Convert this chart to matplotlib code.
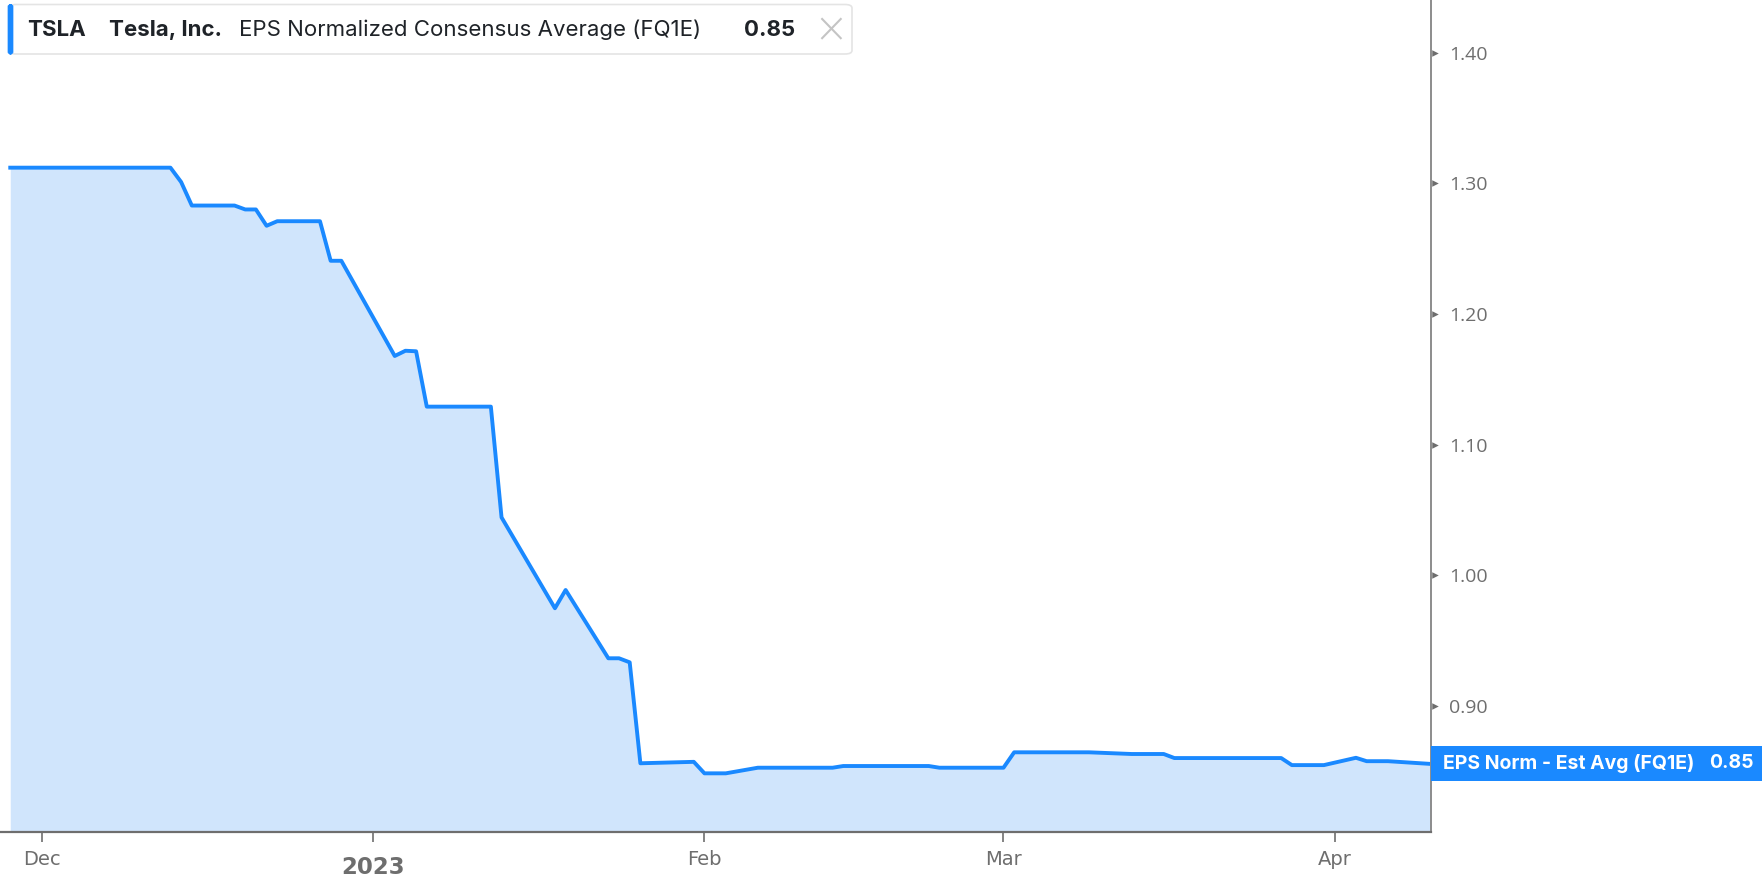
import matplotlib
matplotlib.use("Agg")
import matplotlib.pyplot as plt
import matplotlib.dates as mdates
from matplotlib.patches import FancyBboxPatch, Rectangle
from matplotlib.transforms import blended_transform_factory
import pandas as pd

# EPS normalized consensus average (FQ1E)
dates = ["2022-11-28", "2022-12-13", "2022-12-14", "2022-12-15", "2022-12-19",
         "2022-12-20", "2022-12-21", "2022-12-22", "2022-12-23", "2022-12-27",
         "2022-12-28", "2022-12-29", "2023-01-03", "2023-01-04", "2023-01-05",
         "2023-01-06", "2023-01-12", "2023-01-13", "2023-01-18", "2023-01-19",
         "2023-01-23", "2023-01-24", "2023-01-25", "2023-01-26", "2023-01-31",
         "2023-02-01", "2023-02-03", "2023-02-06", "2023-02-13", "2023-02-14",
         "2023-02-22", "2023-02-23", "2023-03-01", "2023-03-02", "2023-03-09",
         "2023-03-13", "2023-03-16", "2023-03-17", "2023-03-27", "2023-03-28",
         "2023-03-31", "2023-04-03", "2023-04-04", "2023-04-06", "2023-04-10"]
eps = [1.312, 1.312, 1.301, 1.283, 1.283,
       1.280, 1.280, 1.2675, 1.271, 1.271,
       1.2407, 1.2407, 1.1678, 1.1718, 1.1714,
       1.129, 1.129, 1.0442, 0.9746, 0.9886,
       0.9363, 0.9363, 0.9332, 0.8559, 0.857,
       0.8482, 0.8482, 0.8525, 0.8525, 0.8538,
       0.8538, 0.8525, 0.8525, 0.8643, 0.8643,
       0.863, 0.863, 0.8599, 0.8599, 0.8545,
       0.8545, 0.8601, 0.8575, 0.8575, 0.8554]
last_label = "0.85"

x_ticks = ["2022-12-01", "2023-01-01", "2023-02-01", "2023-03-01", "2023-04-01"]
x_labels = ["Dec", "2023", "Feb", "Mar", "Apr"]
y_ticks = [0.90, 1.00, 1.10, 1.20, 1.30, 1.40]

LINE = "#1a89ff"
FILL = "#d0e5fc"
GREY = "#6e6e6e"

W, H = 1762, 880
fig = plt.figure(figsize=(W / 100, H / 100), dpi=100)
ax = fig.add_axes([0, (H - 831.7) / H, 1430.7 / W, 831.7 / H])  # type: plt.Axes

d = pd.to_datetime(dates)
y0 = 0.8035
ax.fill_between(d, eps, y0, color=FILL, lw=0)
ax.plot(d, eps, color=LINE, lw=2.8)

dec1 = mdates.date2num(pd.Timestamp("2022-12-01"))
ax.set_xlim(dec1 - 3.96, dec1 + 130.0)
ax.set_ylim(y0, 1.4404)

for s in ["left", "top"]:
    ax.spines[s].set_visible(False)
ax.spines["bottom"].set_color(GREY)
ax.spines["bottom"].set_linewidth(1.6)
ax.spines["right"].set_color("#8c8c8c")
ax.spines["right"].set_linewidth(1.4)

# x axis
ax.set_xticks(pd.to_datetime(x_ticks))
ax.set_xticklabels(x_labels)
ax.tick_params(axis="x", direction="out", length=7, width=1.2, color=GREY,
               labelcolor=GREY, labelsize=14, pad=6)
for lab in ax.get_xticklabels():
    lab.set_family(["Liberation Sans Narrow", "DejaVu Sans"])
    if lab.get_text() == "2023":
        lab.set_fontsize(16.5)
        lab.set_fontweight("bold")
        lab.set_y(-0.008)

# y axis on the right with small triangle markers
ax.yaxis.tick_right()
ax.set_yticks(y_ticks)
ax.set_yticklabels(["{:.2f}".format(v) for v in y_ticks])
ax.tick_params(axis="y", length=0, pad=13, labelsize=14, labelcolor=GREY)
for lab in ax.get_yticklabels():
    lab.set_family(["Open Sans", "DejaVu Sans"])
tr = blended_transform_factory(ax.transAxes, ax.transData)
ax.scatter([1.0027] * len(y_ticks), y_ticks, marker=">", s=22, color=GREY,
           transform=tr, clip_on=False, zorder=5, lw=0)

# last value label on the axis
fx = lambda px: px / W
fy = lambda py: 1 - py / H
fig.add_artist(Rectangle((fx(1431), fy(781)), fx(W - 1431), 35.3 / H,
                         transform=fig.transFigure, color=LINE, lw=0))
fig.text(fx(1443), fy(763.5), "EPS Norm - Est Avg (FQ1E)", color="white",
         fontsize=14, fontweight="bold", va="center", ha="left",
         family=["Inter", "DejaVu Sans"])
fig.text(fx(1754), fy(763.5), last_label, color="white",
         fontsize=14, fontweight="bold", va="center", ha="right",
         family=["Inter", "DejaVu Sans"])

# legend chip at the top
fig.add_artist(FancyBboxPatch((fx(9), fy(54)), fx(843), 49.5 / H,
                              boxstyle="round,pad=0,rounding_size=0.004",
                              transform=fig.transFigure, facecolor="white",
                              edgecolor="#e4e4e4", lw=1.2))
fig.add_artist(FancyBboxPatch((fx(8), fy(54)), fx(5), 49.5 / H,
                              boxstyle="round,pad=0,rounding_size=0.002",
                              transform=fig.transFigure, facecolor=LINE,
                              edgecolor=LINE, lw=0.5))
ty = fy(30)
kw = dict(va="center", ha="left", fontsize=16, color="#1f2328",
          family=["Inter", "DejaVu Sans"])
fig.text(fx(27), ty, "TSLA", fontweight="bold", **kw)
fig.text(fx(109), ty, "Tesla, Inc.", fontweight="bold", **kw)
fig.text(fx(239), ty, "EPS Normalized Consensus Average (FQ1E)", **kw)
fig.text(fx(744), ty, last_label, fontweight="bold", **kw)
fig.text(fx(813), ty, "\u00d7", va="center", ha="left", fontsize=30,
         color="#c4c4c4", family=["DejaVu Sans"], fontweight="light")

plt.savefig("out.png", dpi=100)
plt.close()
